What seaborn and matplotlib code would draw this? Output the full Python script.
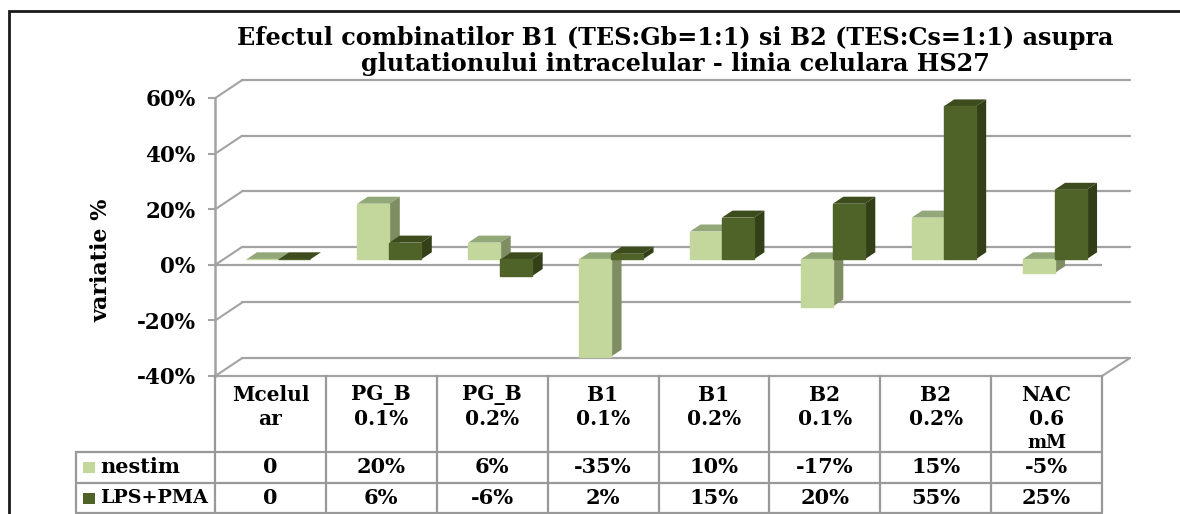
import matplotlib
matplotlib.use("Agg")
import matplotlib.pyplot as plt
from matplotlib.patches import Polygon, Rectangle
from matplotlib.ticker import PercentFormatter
import pandas as pd
import seaborn as sns

categorii = ["Mcelul\nar", "PG_B\n0.1%", "PG_B\n0.2%", "B1\n0.1%", "B1\n0.2%", "B2\n0.1%", "B2\n0.2%", "NAC\n0.6\nmM"]
nestim = [0, 20, 6, -35, 10, -17, 15, -5]
lps_pma = [0, 6, -6, 2, 15, 20, 55, 25]
serii = ["nestim", "LPS+PMA"]
y_ticks = [-40, -20, 0, 20, 40, 60]

titlu = "Efectul combinatilor B1 (TES:Gb=1:1) si B2 (TES:Cs=1:1) asupra\nglutationului intracelular - linia celulara HS27"

W, H = 1180, 514
FONT = "DejaVu Serif"
GRI = "#a3a3a3"
GRI_TABEL = "#999999"
DESCHIS = "#c3d69b"
INCHIS = "#4f6228"
# fetele laterale, mai inchise
SUS = {DESCHIS: "#93a878", INCHIS: "#3d4c1d"}
LATURA = {DESCHIS: "#7f8d63", INCHIS: "#333f17"}

sns.set_theme(style="white")
plt.rcParams["axes.unicode_minus"] = False
plt.rcParams["font.family"] = FONT

df = pd.DataFrame({
    "categorie": categorii * 2,
    "serie": [serii[0]] * 8 + [serii[1]] * 8,
    "valoare": nestim + lps_pma,
})

fig = plt.figure(figsize=(W / 100, H / 100), dpi=100, facecolor="white")


def axa(x0, y0, x1, y1):
    # pozitia in pixeli, cu y de sus in jos
    a = fig.add_axes([x0 / W, 1 - y1 / H, (x1 - x0) / W, (y1 - y0) / H])
    a.patch.set_alpha(0)
    a.set_ylim(-40, 60)
    return a


# peretele din spate
back = axa(242, 80, 1130, 358)
back.set_xticks([])
back.set_yticks(y_ticks)
back.set_yticklabels([])
back.tick_params(left=False)
back.grid(axis="y", color=GRI, lw=1.6)
for g in back.get_ygridlines():
    g.set_clip_on(False)
sns.despine(ax=back, left=True, bottom=True)

# planul din fata cu axa y
front = axa(215, 98, 1102, 376)
front.set_xlim(0, 8)
front.set_xticks([])
front.set_yticks(y_ticks)
front.yaxis.set_major_formatter(PercentFormatter(decimals=0))
front.tick_params(axis="y", left=True, length=5, width=1.5, color=GRI, pad=9,
                  labelsize=15.5, labelcolor="black")
for lab in front.get_yticklabels():
    lab.set_fontweight("bold")
front.axhline(0, color=GRI, lw=1.6)
sns.despine(ax=front, right=True, top=True)
front.spines["left"].set_color(GRI)
front.spines["left"].set_linewidth(1.8)
front.spines["bottom"].set_color(GRI)
front.spines["bottom"].set_linewidth(1.6)
front.set_ylabel("variatie %", fontsize=16, fontweight="bold", color="black")
front.yaxis.set_label_coords((112 - 215) / 887, 1 - (260 - 98) / 278)

# barele
bars = axa(223, 92.5, 1110, 370.5)
sns.barplot(data=df, x="categorie", y="valoare", hue="serie", hue_order=serii,
            order=categorii, palette=[DESCHIS, INCHIS], saturation=1, width=0.577,
            gap=0, legend=False, ax=bars)
bars.set_xlim(-0.5, 7.5)
bars.set_ylim(-40, 60)
bars.axis("off")

# adancimea barelor in unitati de date
dx = 10.5 / 110.9
dy = 7 / 2.78
dreptunghiuri = sorted(bars.patches, key=lambda p: p.get_x())
for p in dreptunghiuri:
    x = p.get_x()
    w = p.get_width()
    h = p.get_height()
    sus = max(h, 0)
    jos = min(h, 0)
    c = matplotlib.colors.to_hex(p.get_facecolor())
    order = 2 + x
    p.set_zorder(order + 0.2)
    p.set_edgecolor(c)
    bars.add_patch(Polygon([(x, sus), (x + w, sus), (x + w + dx, sus + dy), (x + dx, sus + dy)],
                           fc=SUS[c], ec="none", zorder=order))
    if sus > jos:
        bars.add_patch(Polygon([(x + w, jos), (x + w, sus), (x + w + dx, sus + dy), (x + w + dx, jos + dy)],
                               fc=LATURA[c], ec="none", zorder=order + 0.1))

# strat in pixeli pentru chenar, tabel si text
ov = fig.add_axes([0, 0, 1, 1])
ov.set_xlim(0, W)
ov.set_ylim(H, 0)
ov.axis("off")
ov.patch.set_alpha(0)

# chenarul exterior
ov.plot([9, 9, W], [H, 11, 11], color="#1a1a1a", lw=2, solid_joinstyle="miter")

# liniile oblice spre peretele din spate
for v in y_ticks:
    yf = 265 - v * 2.78
    ov.plot([215, 242], [yf, yf - 18], color=GRI, lw=1.5)
ov.plot([1102, 1130], [376, 358], color=GRI, lw=1.5)

# tabelul de date
col_w = (1102 - 215) / 8
for i in range(9):
    xv = 215 + i * col_w
    ov.plot([xv, xv], [376, 513], color=GRI_TABEL, lw=1.6)
ov.plot([76, 76], [452, 513], color=GRI_TABEL, lw=1.6)
for yr in [452, 483, 513]:
    ov.plot([76, 1102], [yr, yr], color=GRI_TABEL, lw=1.6)

for i, et in enumerate(categorii):
    xc = 215 + (i + 0.5) * col_w
    for j, linie in enumerate(et.split("\n")):
        ov.text(xc, 395 + 24 * j, linie, ha="center", va="center", fontsize=14.5 if j < 2 else 13,
                fontweight="bold", color="black")


def eticheta(v):
    return "0" if v == 0 else f"{v}%"


for yr, nume, mar, valori, c in [(467, serii[0], 15, nestim, DESCHIS), (498, serii[1], 13.8, lps_pma, INCHIS)]:
    ov.add_patch(Rectangle((83, yr - 5.5), 12, 11, fc=c, ec="none"))
    ov.text(100, yr, nume, ha="left", va="center", fontsize=mar, fontweight="bold", color="black")
    for i, v in enumerate(valori):
        ov.text(215 + (i + 0.5) * col_w, yr, eticheta(v), ha="center", va="center",
                fontsize=15, fontweight="bold", color="black")

ov.text(675, 51, titlu, ha="center", va="center", fontsize=17.2, fontweight="bold",
        color="black", linespacing=1.15)

fig.savefig("out.png", dpi=100, facecolor="white")
